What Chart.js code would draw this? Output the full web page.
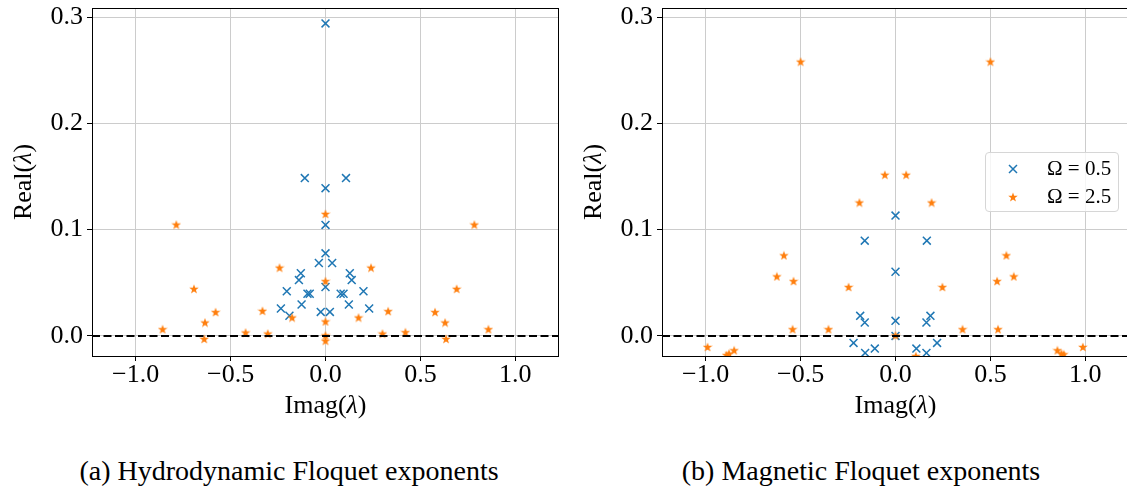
<!DOCTYPE html>
<html>
<head>
<meta charset="utf-8">
<script src="https://cdn.jsdelivr.net/npm/chart.js@4.4.1/dist/chart.umd.min.js"></script>
<style>
html, body { margin: 0; padding: 0; background: #fff; width: 1127px; height: 496px; overflow: hidden; position: relative; font-family: "Liberation Serif", serif; }
canvas.plot { position: absolute; top: 0; }
#hydroChart { left: 0; }
#magChart { left: 570px; }
.caption { position: absolute; top: 457px; font-size: 28px; line-height: 28px; white-space: nowrap; transform: translateX(-50%); color: #000; }
#legend { position: absolute; left: 985px; top: 152px; width: 134px; height: 60px; border: 1px solid #d6d6d6; border-radius: 4px; background: rgba(255,255,255,0.8); box-sizing: border-box; }
#legend .row { position: absolute; left: 0; height: 24px; width: 132px; }
#legend canvas { position: absolute; left: 21px; top: 7px; }
#legend span { position: absolute; left: 61px; top: 0; font-size: 21px; line-height: 24px; white-space: nowrap; }
</style>
</head>
<body>
<canvas id="hydroChart" class="plot" width="570" height="420"></canvas>
<canvas id="magChart" class="plot" width="600" height="420"></canvas>
<div id="legend">
  <div class="row" style="top:3px"><canvas id="legBlue" width="12" height="12"></canvas><span>Ω = 0.5</span></div>
  <div class="row" style="top:31px"><canvas id="legOrange" width="12" height="12"></canvas><span>Ω = 2.5</span></div>
</div>
<div class="caption" style="left:289px">(a) Hydrodynamic Floquet exponents</div>
<div class="caption" style="left:861px">(b) Magnetic Floquet exponents</div>
<script>
// ticks
const xTickValues = [-1.0, -0.5, 0.0, 0.5, 1.0];
const xTickLabels = ['−1.0', '−0.5', '0.0', '0.5', '1.0'];
const yTickValues = [0.0, 0.1, 0.2, 0.3];
const yTickLabels = ['0.0', '0.1', '0.2', '0.3'];
const seriesNames = ['Ω = 0.5', 'Ω = 2.5'];
// axis titles, [text, italic]
const xTitleParts = [['Imag(', false], ['λ', true], [')', false]];
const yTitleParts = [['Real(', false], ['λ', true], [')', false]];

// (a) hydrodynamic, Omega = 0.5
const hydroBlueX = [0, -0.109, 0.108, 0, 0, 0, -0.035, 0.035, -0.13, 0.128, -0.14, 0.138, 0, -0.204, 0.2,
  -0.095, -0.083, 0.08, 0.095, -0.126, 0.123, -0.235, 0.23, -0.19, -0.025, 0.023];
const hydroBlueY = [0.294, 0.1485, 0.1485, 0.139, 0.1044, 0.0777, 0.0686, 0.0686, 0.059, 0.059, 0.0525, 0.0525, 0.046, 0.042, 0.042,
  0.0397, 0.0397, 0.0397, 0.0397, 0.0296, 0.0296, 0.0258, 0.0258, 0.019, 0.0226, 0.0226];
// (a) hydrodynamic, Omega = 2.5
const hydroOrangeX = [-0.786, 0.784, -0.693, 0.691, -0.858, 0.858, -0.635, 0.63, -0.579, 0.577, -0.639, 0.635, -0.421, 0.421,
  -0.332, 0.33, -0.304, 0.3, -0.242, 0.24, -0.176, 0.174, 0, 0, 0, 0, 0];
const hydroOrangeY = [0.1047, 0.1047, 0.0443, 0.0443, 0.0063, 0.0063, 0.0126, 0.0126, 0.0224, 0.0224, -0.0028, -0.0028, 0.0032, 0.0035,
  0.0236, 0.0233, 0.0022, 0.0022, 0.0642, 0.0642, 0.0173, 0.0173, 0.1148, 0.0516, 0.0136, 0.0005, -0.0045];

// (b) magnetic, Omega = 0.5
const magBlueX = [0, -0.162, 0.165, 0, 0, -0.186, 0.184, -0.162, 0.163, 0, -0.221, 0.219, -0.109, 0.11, -0.16, 0.163];
const magBlueY = [0.1132, 0.0896, 0.0896, 0.0604, 0.0142, 0.0189, 0.0189, 0.0126, 0.0126, 0.0, -0.0066, -0.0066, -0.0119, -0.0119, -0.016, -0.016];
// (b) magnetic, Omega = 2.5
const magOrangeX = [-0.5, 0.5, -0.056, 0.056, -0.19, 0.19, -0.588, 0.584, -0.625, 0.623, -0.537, 0.535, -0.247, 0.247,
  -0.542, 0.54, -0.353, 0.353, -0.99, 0.987, -0.85, 0.853, -0.877, 0.874, -0.89, 0.886, 0, 0.107];
const magOrangeY = [0.258, 0.258, 0.1516, 0.1516, 0.1255, 0.1255, 0.0758, 0.0758, 0.056, 0.056, 0.0516, 0.0516, 0.046, 0.046,
  0.0063, 0.0063, 0.0063, 0.0063, -0.0104, -0.0104, -0.0135, -0.0135, -0.0166, -0.0166, -0.018, -0.0173, 0.0005, -0.019];

const xMin = -1.23, xMax = 1.23;
const yMin = -0.0189, yMax = 0.3085;
const blue = '#1f77b4';
const orange = '#ff7f0e';
const serif = 'Liberation Serif';

function makeStar(size, color) {
  const c = document.createElement('canvas');
  c.width = size; c.height = size;
  const g = c.getContext('2d');
  const r = size / 2, ri = r * 0.4;
  g.beginPath();
  for (let i = 0; i < 10; i++) {
    const a = -Math.PI / 2 + i * Math.PI / 5;
    const rr = i % 2 ? ri : r;
    g.lineTo(size / 2 + rr * Math.cos(a), size / 2 + 0.4 + rr * Math.sin(a));
  }
  g.closePath();
  g.fillStyle = color;
  g.fill();
  return c;
}
const starImg = makeStar(10, orange);

function toPoints(xs, ys) {
  return xs.map((x, i) => ({ x: x, y: ys[i] }));
}

// top and right spines
const framePlugin = {
  id: 'frame',
  afterDraw(chart) {
    const { ctx, chartArea: a } = chart;
    ctx.save();
    ctx.strokeStyle = '#000';
    ctx.lineWidth = 1;
    ctx.strokeRect(Math.round(a.left) + 0.5, Math.round(a.top) + 0.5, Math.round(a.right - a.left) - 1, Math.round(a.bottom - a.top));
    ctx.restore();
  }
};

// draws a title made of upright and italic pieces, centred on (cx, cy)
function drawParts(ctx, parts, cx, cy, rot) {
  const fontOf = it => (it ? 'italic ' : '') + '26px "' + serif + '"';
  let total = 0;
  parts.forEach(p => { ctx.font = fontOf(p[1]); total += ctx.measureText(p[0]).width; });
  ctx.save();
  ctx.translate(cx, cy);
  ctx.rotate(rot);
  ctx.fillStyle = '#000';
  ctx.textBaseline = 'middle';
  ctx.textAlign = 'left';
  let x = -total / 2;
  parts.forEach(p => {
    ctx.font = fontOf(p[1]);
    ctx.fillText(p[0], x, 0);
    x += ctx.measureText(p[0]).width;
  });
  ctx.restore();
}

const titlePlugin = {
  id: 'axisTitles',
  afterDraw(chart) {
    const { ctx, chartArea: a } = chart;
    drawParts(ctx, xTitleParts, (a.left + a.right) / 2, a.bottom + 50, 0);
    drawParts(ctx, yTitleParts, a.left - 68, (a.top + a.bottom) / 2, -Math.PI / 2);
  }
};

function makeChart(id, bx, by, ox, oy, padRight) {
  const ctx = document.getElementById(id).getContext('2d');
  return new Chart(ctx, {
    type: 'scatter',
    data: {
      datasets: [
        {
          label: seriesNames[0],
          data: toPoints(bx, by),
          pointStyle: 'crossRot',
          pointRadius: 5.6,
          pointBorderWidth: 1.5,
          borderColor: blue,
          backgroundColor: blue,
          order: 2,
          clip: 0
        },
        {
          label: seriesNames[1],
          data: toPoints(ox, oy),
          pointStyle: starImg,
          order: 1,
          clip: 0
        },
        {
          type: 'line',
          label: 'zero',
          data: [{ x: xMin, y: 0 }, { x: xMax, y: 0 }],
          borderColor: '#000',
          borderWidth: 2,
          borderDash: [8, 3.5],
          pointRadius: 0,
          showLine: true,
          order: 0,
          clip: 0
        }
      ]
    },
    options: {
      responsive: false,
      animation: false,
      layout: { padding: { top: 8, right: padRight, left: 0, bottom: 0 } },
      plugins: { legend: { display: false }, tooltip: { enabled: false } },
      scales: {
        x: {
          type: 'linear',
          min: xMin,
          max: xMax,
          afterFit(s) { s.height = 64; s.paddingLeft = 0; s.paddingRight = 0; },
          afterBuildTicks(s) { s.ticks = xTickValues.map(v => ({ value: v })); },
          ticks: {
            callback: (v, i) => xTickLabels[i],
            font: { family: serif, size: 26, lineHeight: 1 },
            color: '#000',
            padding: 1,
            maxRotation: 0,
            autoSkip: false
          },
          grid: { color: '#cccccc', lineWidth: 1, tickColor: '#000', tickLength: 5 },
          border: { display: false }
        },
        y: {
          type: 'linear',
          min: yMin,
          max: yMax,
          afterFit(s) { s.width = 92; s.paddingTop = 0; s.paddingBottom = 0; },
          afterBuildTicks(s) { s.ticks = yTickValues.map(v => ({ value: v })); },
          ticks: {
            callback: (v, i) => yTickLabels[i],
            font: { family: serif, size: 26, lineHeight: 1 },
            color: '#000',
            padding: 4,
            autoSkip: false
          },
          grid: { color: '#cccccc', lineWidth: 1, tickColor: '#000', tickLength: 5 },
          border: { display: false }
        }
      }
    },
    plugins: [framePlugin, titlePlugin]
  });
}

makeChart('hydroChart', hydroBlueX, hydroBlueY, hydroOrangeX, hydroOrangeY, 11);
makeChart('magChart', magBlueX, magBlueY, magOrangeX, magOrangeY, 41);

// legend markers
const lb = document.getElementById('legBlue').getContext('2d');
lb.strokeStyle = blue;
lb.lineWidth = 1.5;
lb.beginPath();
lb.moveTo(2, 2); lb.lineTo(10, 10);
lb.moveTo(10, 2); lb.lineTo(2, 10);
lb.stroke();
document.getElementById('legOrange').getContext('2d').drawImage(starImg, 1, 1);
</script>
</body>
</html>
